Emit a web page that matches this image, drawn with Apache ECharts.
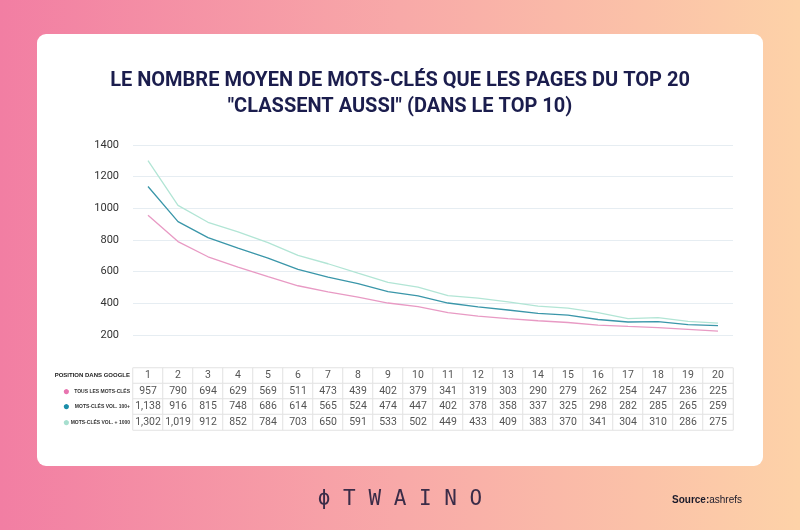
<!DOCTYPE html>
<html>
<head>
<meta charset="utf-8">
<script src="https://cdn.jsdelivr.net/npm/echarts@6/dist/echarts.min.js"></script>
<style>
  html, body { margin: 0; padding: 0; }
  #chart { width: 800px; height: 530px; }
</style>
</head>
<body>
<div id="chart"></div>
<script>
  // positions dans google
  var positions = ['1', '2', '3', '4', '5', '6', '7', '8', '9', '10',
    '11', '12', '13', '14', '15', '16', '17', '18', '19', '20']
  var tousMotsCles = [957, 790, 694, 629, 569, 511, 473, 439, 402, 379, 341, 319, 303, 290, 279, 262, 254, 247, 236, 225]
  var motsCles100 = [1138, 916, 815, 748, 686, 614, 565, 524, 474, 447, 402, 378, 358, 337, 325, 298, 282, 285, 265, 259]
  var motsCles1000 = [1302, 1019, 912, 852, 784, 703, 650, 591, 533, 502, 449, 433, 409, 383, 370, 341, 304, 310, 286, 275]
  var yTicks = [200, 1400, 200] // min, max, interval

  var rowNames = ['POSITION DANS GOOGLE', 'TOUS LES MOTS-CLÉS', 'MOTS-CLÉS VOL. 100+', 'MOTS-CLÉS VOL. + 1000']
  var colors = ['#e89ac4', '#3a96a9', '#b2e5d5']
  var dotColors = ['#e875b0', '#1b8ea9', '#a7dfcf']

  function fmt (n) {
    return String(n).replace(/\B(?=(\d{3})+(?!\d))/g, ',')
  }

  // cellules du tableau : [colonne, ligne, valeur]
  var tableRows = [positions, tousMotsCles, motsCles100, motsCles1000]
  var tableData = []
  tableRows.forEach(function (row, r) {
    row.forEach(function (v, c) {
      tableData.push([c, r, Number(v)])
    })
  })

  var chart = echarts.init(document.getElementById('chart'))
  chart.setOption({
    backgroundColor: {
      type: 'linear', x: 0, y: 0, x2: 1, y2: 0,
      colorStops: [{offset: 0, color: '#f27ea3'}, {offset: 0.5, color: '#f8a9a8'}, {offset: 1, color: '#fdd2a8'}],
    },
    animation: false,
    graphic: [
      {
        type: 'rect', z: -10,
        shape: {x: 37, y: 34, width: 726, height: 432, r: 9},
        style: {fill: '#ffffff'},
      },
      {
        type: 'text', x: 400, y: 68,
        style: {
          text: 'LE NOMBRE MOYEN DE MOTS-CLÉS QUE LES PAGES DU TOP 20\n"CLASSENT AUSSI" (DANS LE TOP 10)',
          fill: '#1b1d4d', fontSize: 20, fontWeight: 'bold', fontFamily: 'Roboto',
          align: 'center', lineHeight: 26,
        },
      },
      {
        type: 'text', x: 400, y: 489,
        style: {
          text: 'ϕ T W A I N O', fill: '#3b2c48',
          fontSize: 21, fontFamily: 'DejaVu Sans Mono', align: 'center',
        },
      },
      {
        type: 'text', x: 672, y: 495,
        style: {
          text: '{b|Source:}{n|ashrefs}',
          rich: {
            b: {fontWeight: 'bold', fontSize: 10, fill: '#1a1a2a', fontFamily: 'Liberation Sans'},
            n: {fontSize: 10, fill: '#1a1a2a', fontFamily: 'Liberation Sans'},
          },
        },
      },
    ],
    grid: [
      {left: 133, right: 67, top: 145, height: 190},
      {left: 133, right: 67, top: 368, height: 62},
    ],
    xAxis: [
      {
        type: 'category', gridIndex: 0, data: positions, boundaryGap: true,
        axisLine: {show: false}, axisTick: {show: false}, axisLabel: {show: false},
      },
      {
        type: 'category', gridIndex: 1, data: positions,
        axisLine: {show: false}, axisTick: {show: false}, axisLabel: {show: false},
      },
    ],
    yAxis: [
      {
        type: 'value', gridIndex: 0, min: yTicks[0], max: yTicks[1], interval: yTicks[2],
        axisLabel: {
          color: '#333', fontSize: 11, fontFamily: 'Roboto', margin: 14,
          formatter: function (v) { return String(v) },
        },
        splitLine: {lineStyle: {color: '#e6edf2'}},
      },
      {
        type: 'category', gridIndex: 1, inverse: true, data: rowNames,
        axisLine: {show: false}, axisTick: {show: false},
        axisLabel: {
          margin: 3, interval: 0,
          formatter: function (v, i) {
            if (i === 0) return '{h|' + v + '}'
            return '{d' + i + '|●}{t|' + v + '}'
          },
          rich: {
            h: {fontSize: 6, fontWeight: 'bold', color: '#222', fontFamily: 'Liberation Sans'},
            t: {fontSize: 5, fontWeight: 'bold', color: '#333', width: 60, align: 'right', fontFamily: 'Liberation Sans'},
            d1: {fontSize: 12, color: dotColors[0], width: 10},
            d2: {fontSize: 12, color: dotColors[1], width: 10},
            d3: {fontSize: 12, color: dotColors[2], width: 10},
          },
        },
      },
    ],
    visualMap: {show: false, seriesIndex: 3, dimension: 2, min: 0, max: 5000, inRange: {color: ['#fff', '#fff']}},
    series: [
      {
        name: rowNames[1], type: 'line', data: tousMotsCles, symbol: 'none',
        lineStyle: {color: colors[0], width: 1.3},
      },
      {
        name: rowNames[2], type: 'line', data: motsCles100, symbol: 'none',
        lineStyle: {color: colors[1], width: 1.3},
      },
      {
        name: rowNames[3], type: 'line', data: motsCles1000, symbol: 'none',
        lineStyle: {color: colors[2], width: 1.3},
      },
      {
        type: 'heatmap', xAxisIndex: 1, yAxisIndex: 1, data: tableData,
        itemStyle: {color: '#fff', borderColor: '#e2e2e2', borderWidth: 1},
        label: {
          show: true, color: '#555', fontSize: 10.5, fontFamily: 'Roboto',
          formatter: function (p) { return fmt(p.data[2]) },
        },
        emphasis: {disabled: true},
      },
    ],
  })
</script>
</body>
</html>
